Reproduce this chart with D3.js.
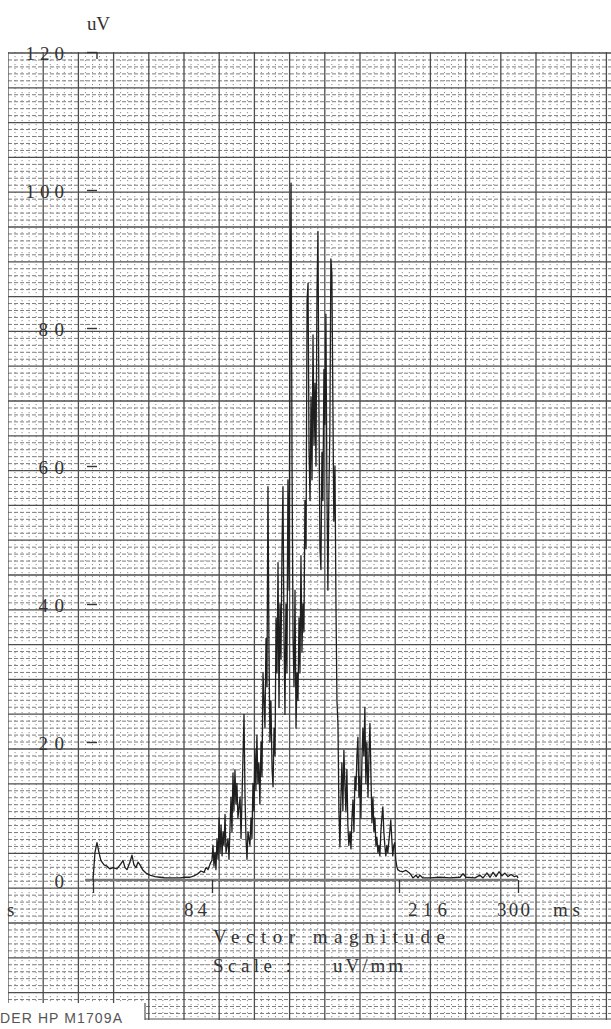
<!DOCTYPE html>
<html>
<head>
<meta charset="utf-8">
<script src="https://cdn.jsdelivr.net/npm/d3@7"></script>
<style>
  html, body { margin: 0; padding: 0; background: #fff; }
  svg { display: block; }
  .lbl { font-family: "Liberation Serif", "DejaVu Serif", serif; fill: #333; }
</style>
</head>
<body>
<svg id="chart" width="611" height="1029"></svg>
<script>
// vector magnitude trace (ms, uV)
var earlyMs = [0, 1.4, 2.8, 4.2, 5.6, 7.8, 9.9, 12.0, 14.1, 16.9, 19.1, 21.2, 22.6, 24.0, 26.1, 27.5, 28.9, 30.4, 31.8, 33.2,
  35.3, 37.4, 40.2, 43.8, 47.3, 50.8, 54.4, 57.9, 61.4, 64.9, 68.5, 71.3, 74.1, 76.2, 78.4, 79.8, 81.2, 82.6, 84.0]
var earlyUv = [0, 4, 5.4, 4.0, 2.8, 2.2, 2.0, 1.6, 1.8, 1.6, 2.2, 2.8, 1.8, 1.5, 2.6, 3.6, 2.2, 1.8, 2.6, 2.2,
  1.4, 1.0, 0.7, 0.5, 0.4, 0.3, 0.3, 0.3, 0.3, 0.4, 0.4, 0.6, 0.9, 1.3, 1.1, 1.8, 1.5, 2.3, 2.9]

var qrsMs = [84.7, 85.4, 86.1, 86.8, 87.5, 88.3, 89.0, 89.7, 90.4, 91.1, 91.8, 92.5, 93.2, 93.9, 95.3, 96.0, 97.4, 98.1, 98.8, 99.5,
  100.2, 100.9, 101.6, 102.3, 103.8, 104.5, 105.9, 106.6, 107.3, 108.0, 108.7, 109.4, 110.8, 111.5, 112.2, 112.9, 113.6, 114.3, 115.0, 115.7,
  116.4, 117.1, 117.8, 118.6, 119.3, 120.0, 120.7, 121.4, 122.1, 122.8, 123.5, 124.2, 124.9, 125.6, 126.4, 127.1, 127.8, 128.5, 129.2, 129.9,
  130.6, 131.3, 132.0, 132.7, 133.4, 134.1, 134.8, 135.5, 136.2, 136.9, 137.6, 138.4, 139.1, 139.8, 140.5, 141.2, 141.9, 142.6, 143.3, 144.0,
  144.7, 145.4, 146.1, 146.8, 147.5, 148.2, 148.9, 149.6, 150.4, 151.1, 151.8, 152.5, 153.2, 153.9, 154.6, 155.3, 156.0, 156.7, 157.4, 158.1,
  158.8, 159.5, 160.2, 160.9, 161.6, 162.3, 163.0, 163.7, 164.4, 165.1, 165.8, 166.5, 167.2, 167.9, 168.6, 169.3, 170.0, 170.8, 171.5, 172.2]
var qrsUv = [5, 2, 4, 1.5, 6, 3, 9, 4, 8, 3.5, 7, 5, 9.5, 4, 6, 3, 12, 7, 15.5, 10,
  16, 11, 14, 9, 12, 6, 18, 24, 12, 6, 3, 7, 5, 9, 6, 14, 10, 19, 13, 21,
  14, 17, 11, 20, 15, 30, 26, 22, 35, 28, 57, 34, 20, 26, 16, 13.5, 22, 18, 38, 30,
  46, 25, 40, 32, 48, 57, 36, 24, 40, 30, 58, 42, 80, 101, 60, 35, 28, 42, 22, 30,
  26, 38, 30, 47, 33, 40, 36, 55, 48, 84, 86.5, 62, 55, 70, 58, 79, 63, 72, 60, 85,
  94, 68, 48, 45, 62, 55, 74, 66, 82, 58, 42, 56, 65, 90, 88, 70, 52, 60, 40, 26]

var lateMs = [172.9, 173.6, 174.3, 175.0, 175.7, 176.4, 177.1, 177.8, 178.5, 179.2, 179.9, 180.6, 181.4, 182.1, 182.8, 183.5, 184.2, 184.9, 185.6, 186.3,
  187.0, 187.7, 188.4, 189.1, 189.8, 190.5, 191.2, 191.9, 192.6, 193.3, 194.1, 194.8, 195.5, 196.2, 196.9, 197.6, 198.3, 199.0, 199.7, 200.4,
  201.1, 201.8, 202.5, 203.2, 203.9, 204.6, 205.3, 206.0, 206.7, 207.4, 208.1, 209.5, 210.2, 210.9, 211.6, 212.3, 213.0, 213.7, 214.4, 215.1]
var lateUv = [22.7, 10, 4.8, 12, 17, 10, 18.8, 14, 10, 16, 8, 5, 7, 4.5, 9, 11.6, 7, 15, 13, 18,
  20.7, 12, 15, 9, 17, 22, 18, 25, 14, 20, 12, 18, 22.7, 15, 8.3, 12, 7, 9, 5, 6.2,
  4, 5, 3.5, 7, 9, 10.6, 7, 5, 3.5, 5, 4, 7, 8.7, 6, 3.5, 5, 5.4, 3, 2, 1.5]

var tailMs = [216.5, 218.6, 220.8, 222.9, 224.3, 225.8, 228.0, 229.4, 230.8, 232.9, 237.9, 245.0, 252.0, 259.1, 261.2, 263.3, 269.6, 273.2, 275.3, 278.1,
  280.3, 282.4, 284.5, 286.6, 288.7, 290.8, 292.9, 295.1, 297.2, 299.3, 300]
var tailUv = [1.3, 1.2, 1.4, 1.1, 0.8, 0.3, 0.7, 0.3, 0.7, 0.3, 0.3, 0.4, 0.3, 0.4, 0.9, 0.4, 0.3, 0.7, 0.3, 1.0,
  0.4, 1.1, 0.5, 1.2, 0.6, 1.0, 0.5, 0.8, 0.5, 0.6, 0.3]

var yTicks = [0, 20, 40, 60, 80, 100, 120]
var xTicks = [0, 84, 216, 300]
var xTickLabels = ['', '84', '216', '300']

var svg = d3.select('#chart')

var x = d3.scaleLinear().domain([0, 300]).range([93, 518])
var y = d3.scaleLinear().domain([0, 120]).range([880, 52])

// paper outline (left piece is torn shorter at the bottom)
var paperPts = [[8, 52], [611, 52], [611, 1020], [145, 1020], [145, 1003], [8, 1003]]
svg.append('clipPath').attr('id', 'paper')
    .append('polygon').attr('points', paperPts.map(function (p) { return p.join(',') }).join(' '))

var grid = svg.append('g').attr('clip-path', 'url(#paper)')

var vMajor = d3.range(8, 612, 35.2)
var hMajor = d3.range(53, 1022, 34.8)
var vMinor = d3.range(8, 612, 7.04).filter(function (d, i) { return i % 5 != 0 })
var hMinor = d3.range(53, 1022, 6.96).filter(function (d, i) { return i % 5 != 0 })

grid.selectAll('.vmin').data(vMinor).enter().append('line')
    .attr('x1', function (d) { return d }).attr('x2', function (d) { return d })
    .attr('y1', 52).attr('y2', 1020)
    .attr('stroke', '#8c8c8c').attr('stroke-width', 1).attr('stroke-dasharray', '1.2,2.8')
grid.selectAll('.hmin').data(hMinor).enter().append('line')
    .attr('y1', function (d) { return d }).attr('y2', function (d) { return d })
    .attr('x1', 8).attr('x2', 611)
    .attr('stroke', '#7d7d7d').attr('stroke-width', 1).attr('stroke-dasharray', '4,2')
grid.selectAll('.vmaj').data(vMajor).enter().append('line')
    .attr('x1', function (d) { return d }).attr('x2', function (d) { return d })
    .attr('y1', 52).attr('y2', 1020)
    .attr('stroke', '#4d4d4d').attr('stroke-width', 1.3)
grid.selectAll('.hmaj').data(hMajor).enter().append('line')
    .attr('y1', function (d) { return d }).attr('y2', function (d) { return d })
    .attr('x1', 8).attr('x2', 611)
    .attr('stroke', '#4d4d4d').attr('stroke-width', 1.3)
svg.append('line').attr('x1', 145).attr('x2', 611).attr('y1', 1019).attr('y2', 1019)
    .attr('stroke', '#555').attr('stroke-width', 1.2)
svg.append('line').attr('x1', 145).attr('x2', 145).attr('y1', 1003).attr('y2', 1020)
    .attr('stroke', '#555').attr('stroke-width', 1.2)

// baseline
svg.append('line').attr('x1', 85).attr('x2', x(300)).attr('y1', y(0)).attr('y2', y(0))
    .attr('stroke', '#7a7a7a').attr('stroke-width', 2.4)

// y axis ticks + labels
var yAxis = svg.append('g').attr('transform', 'translate(97,0)')
    .call(d3.axisLeft(y).tickValues(yTicks.filter(function (d) { return d > 0 })).tickSize(10).tickFormat(''))
yAxis.select('.domain').remove()
yAxis.selectAll('.tick line').attr('stroke', '#333').attr('stroke-width', 1.4)
svg.append('line').attr('x1', 97).attr('x2', 97).attr('y1', y(120)).attr('y2', y(120) + 7)
    .attr('stroke', '#333').attr('stroke-width', 1.4)

svg.selectAll('.ylab').data(yTicks).enter().append('text')
    .attr('class', 'lbl')
    .attr('x', 64).attr('y', function (d) { return y(d) + 8 })
    .attr('text-anchor', 'end')
    .attr('font-size', 19)
    .attr('textLength', function (d) { return String(d).length * 12.8 })
    .attr('lengthAdjust', 'spacing')
    .text(function (d) { return d })

svg.append('text').attr('class', 'lbl').attr('x', 87).attr('y', 30)
    .attr('font-size', 19).attr('textLength', 23).attr('lengthAdjust', 'spacing').text('uV')

// x axis ticks
var xAxis = svg.append('g').attr('transform', 'translate(0,' + y(0) + ')')
    .call(d3.axisBottom(x).tickValues(xTicks).tickSize(13).tickFormat(''))
xAxis.select('.domain').remove()
xAxis.selectAll('.tick line').attr('stroke', '#333').attr('stroke-width', 1.3)

// tick labels sit beside their ticks, as printed
var xLabelPos = [
  { anchor: 'start', dx: 0, len: 0 },
  { anchor: 'end', dx: -5, len: 23 },
  { anchor: 'start', dx: 9, len: 39 },
  { anchor: 'start', dx: -21, len: 33 }
]
xTicks.forEach(function (v, i) {
  if (!xTickLabels[i]) return
  svg.append('text').attr('class', 'lbl')
      .attr('x', x(v) + xLabelPos[i].dx).attr('y', 916)
      .attr('text-anchor', xLabelPos[i].anchor)
      .attr('font-size', 19)
      .attr('textLength', xLabelPos[i].len).attr('lengthAdjust', 'spacing')
      .text(xTickLabels[i])
})
svg.append('text').attr('class', 'lbl').attr('x', 553).attr('y', 916).attr('font-size', 19)
    .attr('textLength', 27).attr('lengthAdjust', 'spacing').text('ms')
svg.append('text').attr('class', 'lbl').attr('x', 7).attr('y', 916).attr('font-size', 19).text('s')

svg.append('text').attr('class', 'lbl').attr('x', 213).attr('y', 943).attr('font-size', 19)
    .attr('textLength', 232).attr('lengthAdjust', 'spacing').text('Vector magnitude')
svg.append('text').attr('class', 'lbl').attr('x', 213).attr('y', 972).attr('font-size', 19)
    .attr('textLength', 78).attr('lengthAdjust', 'spacing').text('Scale :')
svg.append('text').attr('class', 'lbl').attr('x', 333).attr('y', 972).attr('font-size', 19)
    .attr('textLength', 70).attr('lengthAdjust', 'spacing').text('uV/mm')

svg.append('text').attr('x', 0).attr('y', 1023)
    .attr('font-family', '"Liberation Sans", Arial, sans-serif').attr('font-size', 14)
    .attr('fill', '#555').attr('textLength', 122).attr('lengthAdjust', 'spacing')
    .text('DER HP M1709A')

// trace
var ms = earlyMs.concat(qrsMs, lateMs, tailMs)
var uv = earlyUv.concat(qrsUv, lateUv, tailUv)
var pts = ms.map(function (m, i) { return [m, uv[i]] })

var line = d3.line().x(function (d) { return x(d[0]) }).y(function (d) { return y(d[1]) })
svg.append('path').datum(pts)
    .attr('d', line)
    .attr('fill', 'none')
    .attr('stroke', '#1f1f1f')
    .attr('stroke-width', 1.3)
    .attr('stroke-linejoin', 'round')
</script>
</body>
</html>
